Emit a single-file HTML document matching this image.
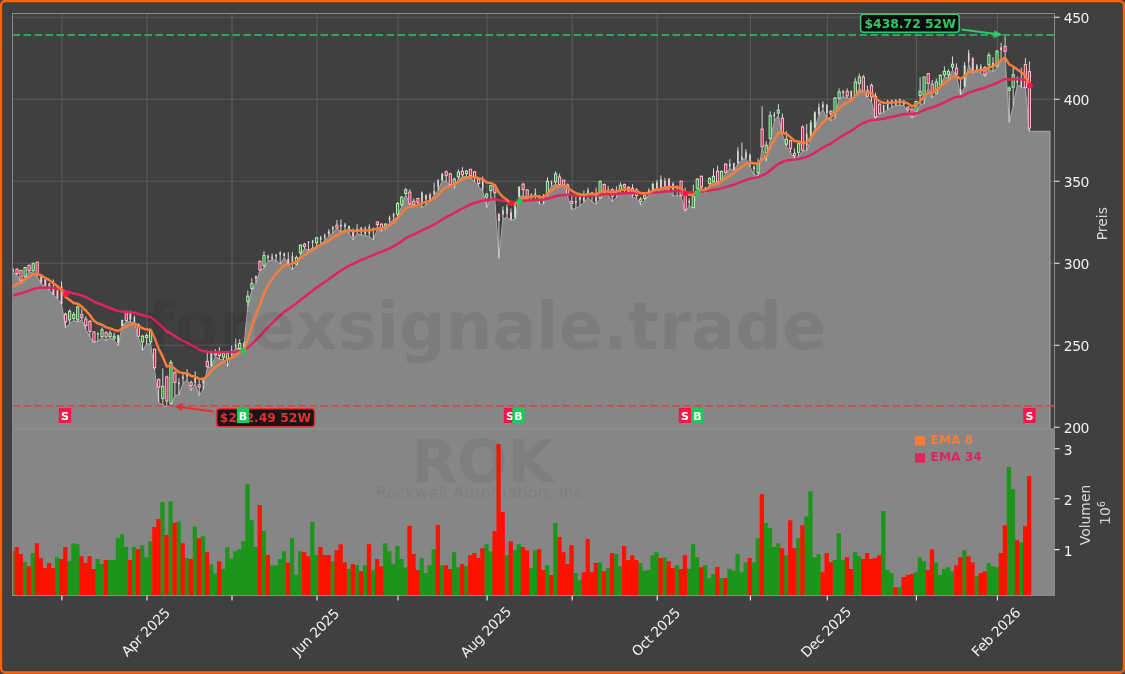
<!DOCTYPE html>
<html><head><meta charset="utf-8"><title>ROK Chart</title>
<style>html,body{margin:0;padding:0;background:#404040;}svg{display:block}</style></head>
<body><svg width="1125" height="674" viewBox="0 0 1125 674" font-family="'DejaVu Sans', 'Liberation Sans', sans-serif">
<defs><clipPath id="cp"><rect x="12.5" y="13.5" width="1042.0" height="415.5"/></clipPath><clipPath id="cv"><rect x="12.5" y="429.0" width="1042.0" height="166.5"/></clipPath></defs>
<rect x="0" y="0" width="1125" height="674" fill="#404040"/>
<rect x="12.5" y="429.0" width="1042.0" height="166.5" fill="#868686"/>
<path d="M61.9 13.5V429.0M147.0 13.5V429.0M232.0 13.5V429.0M317.0 13.5V429.0M398.0 13.5V429.0M487.1 13.5V429.0M572.2 13.5V429.0M657.2 13.5V429.0M750.4 13.5V429.0M827.3 13.5V429.0M916.4 13.5V429.0M997.4 13.5V429.0M12.5 17.2H1054.5M12.5 99.2H1054.5M12.5 181.2H1054.5M12.5 263.2H1054.5M12.5 345.2H1054.5" stroke="#5c5c5c" stroke-width="1" fill="none"/>
<g clip-path="url(#cp)">
<path d="M12.5 429.0L12.5 272.8L12.9 272.8L17.0 274.9L21.0 281.4L25.1 277.8L29.1 271.8L33.2 273.5L37.2 276.4L41.2 283.5L45.3 287.5L49.4 289.9L53.4 294.9L57.5 298.5L61.5 304.2L65.5 327.7L69.6 323.4L73.7 320.5L77.7 322.0L81.8 319.8L85.8 329.1L89.8 336.9L93.9 342.2L97.9 341.2L102.0 337.6L106.0 340.5L110.1 337.6L114.2 340.5L118.2 345.5L122.2 326.2L126.3 321.7L130.3 322.0L134.4 323.1L138.4 336.9L142.5 350.5L146.6 344.0L150.6 344.0L154.6 369.9L158.7 401.9L162.8 405.5L166.8 406.6L170.8 406.2L174.9 395.5L178.9 394.8L183.0 383.4L187.1 379.8L191.1 390.5L195.2 383.4L199.2 395.5L203.2 389.8L207.3 367.7L211.3 367.0L215.4 356.3L219.4 359.2L223.5 359.9L227.5 366.3L231.6 355.6L235.7 347.8L239.7 349.2L243.8 348.5L247.8 306.2L251.8 290.5L255.9 283.4L259.9 270.6L264.0 268.0L268.0 261.3L272.1 259.9L276.1 260.3L280.2 264.2L284.2 257.7L288.3 263.4L292.4 269.9L296.4 264.9L300.4 254.9L304.5 248.5L308.5 250.3L312.6 247.8L316.6 248.5L320.7 243.5L324.8 240.6L328.8 236.4L332.8 232.8L336.9 228.5L340.9 231.8L345.0 230.0L349.1 233.5L353.1 239.9L357.1 233.5L361.2 234.9L365.2 235.7L369.3 236.4L373.3 239.9L377.4 229.1L381.4 231.3L385.5 229.1L389.6 222.7L393.6 219.9L397.6 216.3L401.7 206.3L405.8 194.9L409.8 204.6L413.8 205.6L417.9 204.9L421.9 207.5L426.0 204.9L430.1 201.8L434.1 194.9L438.1 190.6L442.2 181.0L446.2 181.4L450.3 185.7L454.3 188.5L458.4 179.0L462.4 177.1L466.5 176.4L470.5 177.5L474.6 182.1L478.6 186.4L482.7 190.6L486.8 207.7L490.8 197.1L494.8 199.2L498.9 258.3L502.9 219.1L507.0 217.4L511.0 220.3L515.1 219.1L519.1 197.1L523.2 195.6L527.2 198.1L531.3 200.6L535.3 199.8L539.4 204.1L543.5 204.1L547.5 195.6L551.5 185.6L555.6 184.9L559.6 185.3L563.7 185.6L567.8 197.0L571.8 209.5L575.9 208.4L579.9 205.8L583.9 202.7L588.0 197.7L592.0 201.5L596.1 204.4L600.1 198.7L604.2 194.9L608.2 195.6L612.3 201.5L616.4 197.3L620.4 193.4L624.4 192.4L628.5 194.1L632.5 197.3L636.6 198.4L640.6 205.3L644.7 200.1L648.8 194.9L652.8 194.1L656.9 189.9L660.9 188.4L664.9 188.4L669.0 189.8L673.0 196.2L677.1 195.5L681.1 196.9L685.2 211.5L689.2 206.1L693.3 207.9L697.4 189.8L701.4 188.1L705.4 193.3L709.5 184.4L713.5 182.0L717.6 183.4L721.6 182.0L725.7 173.4L729.8 168.4L733.8 170.6L737.9 164.1L741.9 159.9L745.9 158.2L750.0 167.0L754.0 174.8L758.1 175.8L762.1 147.6L766.2 161.2L770.2 139.8L774.3 121.3L778.4 115.6L782.4 134.4L786.4 146.2L790.5 152.6L794.5 158.3L798.6 156.2L802.6 151.2L806.7 150.5L810.8 139.1L814.8 128.4L818.9 115.6L822.9 109.8L826.9 118.1L831.0 120.5L835.0 118.4L839.1 99.1L843.1 97.0L847.2 97.7L851.2 99.1L855.3 97.0L859.3 88.4L863.4 91.6L867.4 97.3L871.5 101.5L875.5 118.6L879.6 114.1L883.6 112.4L887.7 109.8L891.8 107.0L895.8 105.3L899.8 105.3L903.9 105.8L907.9 111.5L912.0 117.6L916.0 115.2L920.1 104.4L924.1 103.8L928.2 87.7L932.2 98.1L936.3 93.9L940.3 85.9L944.4 76.8L948.4 78.2L952.5 70.2L956.5 75.3L960.6 95.3L964.6 87.0L968.7 64.5L972.8 73.4L976.8 71.6L980.8 72.6L984.9 76.6L988.9 69.8L993.0 71.6L997.0 67.3L1001.1 60.2L1005.1 56.6L1009.2 122.4L1013.2 105.9L1017.3 84.6L1021.3 87.2L1025.4 88.1L1029.4 131.3L1050 131.3L1050 429.0Z" fill="#868686" stroke="#aaaaaa" stroke-width="1" stroke-linejoin="round"/>
<path d="M12.9 268.1V272.8M17.0 268.5V274.9M21.0 270.0V281.4M25.1 266.7V277.8M29.1 264.7V271.8M33.2 262.8V273.5M37.2 261.8V276.4M41.2 274.2V283.5M45.3 279.2V287.5M49.4 282.8V289.9M53.4 279.5V294.9M57.5 289.9V298.5M61.5 281.4V304.2M65.5 312.7V327.7M69.6 309.4V323.4M73.7 312.0V320.5M77.7 305.6V322.0M81.8 308.4V319.8M85.8 316.3V329.1M89.8 319.8V336.9M93.9 331.7V342.2M97.9 332.6V341.2M102.0 327.4V337.6M106.0 331.2V340.5M110.1 330.5V337.6M114.2 332.6V340.5M118.2 334.8V345.5M122.2 319.8V326.2M126.3 310.6V321.7M130.3 310.6V322.0M134.4 315.6V323.1M138.4 323.4V336.9M142.5 334.8V350.5M146.6 333.4V344.0M150.6 329.8V344.0M154.6 348.5V369.9M158.7 378.4V401.9M162.8 368.4V405.5M166.8 375.6V406.6M170.8 359.9V406.2M174.9 371.3V395.5M178.9 378.4V394.8M183.0 374.1V383.4M187.1 369.2V379.8M191.1 380.6V390.5M195.2 371.3V383.4M199.2 379.8V395.5M203.2 377.7V389.8M207.3 350.6V367.7M211.3 352.1V367.0M215.4 349.2V356.3M219.4 347.1V359.2M223.5 352.1V359.9M227.5 352.8V366.3M231.6 345.6V355.6M235.7 338.5V347.8M239.7 339.2V349.2M243.8 342.1V348.5M247.8 290.5V306.2M251.8 278.4V290.5M255.9 275.6V283.4M259.9 260.6V270.6M264.0 251.3V268.0M268.0 254.6V261.3M272.1 253.5V259.9M276.1 254.2V260.3M280.2 251.3V264.2M284.2 252.8V257.7M288.3 252.3V263.4M292.4 252.3V269.9M296.4 255.6V264.9M300.4 244.2V254.9M304.5 242.8V248.5M308.5 241.4V250.3M312.6 239.9V247.8M316.6 237.1V248.5M320.7 235.7V243.5M324.8 233.5V240.6M328.8 229.2V236.4M332.8 226.4V232.8M336.9 220.0V228.5M340.9 219.3V231.8M345.0 222.8V230.0M349.1 225.7V233.5M353.1 228.5V239.9M357.1 224.3V233.5M361.2 227.1V234.9M365.2 226.4V235.7M369.3 224.3V236.4M373.3 227.8V239.9M377.4 221.3V229.1M381.4 223.4V231.3M385.5 223.4V229.1M389.6 215.6V222.7M393.6 212.7V219.9M397.6 202.0V216.3M401.7 196.3V206.3M405.8 187.8V194.9M409.8 189.2V204.6M413.8 198.5V205.6M417.9 197.8V204.9M421.9 191.4V207.5M426.0 194.2V204.9M430.1 192.8V201.8M434.1 182.8V194.9M438.1 179.2V190.6M442.2 172.8V181.0M446.2 170.4V181.4M450.3 172.8V185.7M454.3 177.5V188.5M458.4 169.3V179.0M462.4 167.1V177.1M466.5 170.0V176.4M470.5 169.0V177.5M474.6 171.4V182.1M478.6 177.5V186.4M482.7 176.4V190.6M486.8 192.8V207.7M490.8 184.9V197.1M494.8 184.2V199.2M498.9 213.4V258.3M502.9 206.3V219.1M507.0 204.2V217.4M511.0 208.5V220.3M515.1 204.9V219.1M519.1 186.4V197.1M523.2 182.7V195.6M527.2 189.2V198.1M531.3 193.4V200.6M535.3 188.4V199.8M539.4 194.9V204.1M543.5 194.1V204.1M547.5 177.3V195.6M551.5 180.6V185.6M555.6 171.3V184.9M559.6 173.5V185.3M563.7 179.9V185.6M567.8 183.5V197.0M571.8 194.9V209.5M575.9 196.3V208.4M579.9 196.3V205.8M583.9 190.6V202.7M588.0 187.7V197.7M592.0 192.0V201.5M596.1 187.7V204.4M600.1 180.2V198.7M604.2 183.5V194.9M608.2 186.3V195.6M612.3 188.4V201.5M616.4 186.3V197.3M620.4 182.5V193.4M624.4 183.5V192.4M628.5 186.3V194.1M632.5 184.2V197.3M636.6 188.4V198.4M640.6 197.0V205.3M644.7 193.4V200.1M648.8 188.4V194.9M652.8 182.7V194.1M656.9 179.9V189.9M660.9 175.5V188.4M664.9 177.7V188.4M669.0 178.1V189.8M673.0 182.0V196.2M677.1 185.5V195.5M681.1 180.5V196.9M685.2 187.6V211.5M689.2 198.3V206.1M693.3 184.5V207.9M697.4 178.1V189.8M701.4 175.5V188.1M705.4 186.9V193.3M709.5 177.0V184.4M713.5 168.4V182.0M717.6 165.6V183.4M721.6 170.6V182.0M725.7 163.4V173.4M729.8 159.2V168.4M733.8 163.0V170.6M737.9 147.3V164.1M741.9 142.5V159.9M745.9 149.2V158.2M750.0 153.5V167.0M754.0 165.6V174.8M758.1 158.4V175.8M762.1 106.3V147.6M766.2 141.2V161.2M770.2 111.3V139.8M774.3 112.0V121.3M778.4 104.2V115.6M782.4 113.5V134.4M786.4 131.3V146.2M790.5 139.8V152.6M794.5 148.4V158.3M798.6 142.7V156.2M802.6 125.3V151.2M806.7 124.1V150.5M810.8 120.2V139.1M814.8 111.3V128.4M818.9 103.5V115.6M822.9 101.3V109.8M826.9 104.1V118.1M831.0 110.5V120.5M835.0 97.0V118.4M839.1 88.4V99.1M843.1 89.9V97.0M847.2 88.4V97.7M851.2 90.6V99.1M855.3 77.8V97.0M859.3 73.5V88.4M863.4 74.9V91.6M867.4 85.6V97.3M871.5 83.5V101.5M875.5 92.7V118.6M879.6 103.4V114.1M883.6 104.8V112.4M887.7 99.8V109.8M891.8 99.8V107.0M895.8 99.1V105.3M899.8 98.4V105.3M903.9 99.8V105.8M907.9 106.3V111.5M912.0 108.4V117.6M916.0 101.0V115.2M920.1 77.3V104.4M924.1 76.3V103.8M928.2 73.1V87.7M932.2 79.9V98.1M936.3 78.5V93.9M940.3 74.2V85.9M944.4 66.4V76.8M948.4 69.2V78.2M952.5 56.4V70.2M956.5 63.5V75.3M960.6 78.5V95.3M964.6 62.1V87.0M968.7 49.9V64.5M972.8 57.0V73.4M976.8 64.1V71.6M980.8 64.1V72.6M984.9 65.9V76.6M988.9 52.6V69.8M993.0 57.0V71.6M997.0 49.9V67.3M1001.1 42.8V60.2M1005.1 35.3V56.6M1009.2 86.3V122.4M1013.2 67.7V105.9M1017.3 76.6V84.6M1021.3 67.7V87.2M1025.4 57.9V88.1M1029.4 61.4V131.3" stroke="#e6e6e6" stroke-width="0.9" fill="none"/>
<rect x="12.15" y="268.8" width="1.5" height="3.4" fill="#dcdcdc"/><rect x="15.9" y="269.2" width="2.2" height="4.3" fill="#bd2450" stroke="#ffbccb" stroke-width="1"/><rect x="19.9" y="270.4" width="2.2" height="10.0" fill="#bd2450" stroke="#ffbccb" stroke-width="1"/><rect x="24.0" y="267.5" width="2.2" height="9.1" fill="#1f8a2c" stroke="#b4ecb8" stroke-width="1"/><rect x="28.0" y="265.3" width="2.2" height="5.4" fill="#bd2450" stroke="#ffbccb" stroke-width="1"/><rect x="32.1" y="263.3" width="2.2" height="7.4" fill="#1f8a2c" stroke="#b4ecb8" stroke-width="1"/><rect x="36.1" y="262.1" width="2.2" height="12.1" fill="#bd2450" stroke="#ffbccb" stroke-width="1"/><rect x="40.30" y="274.5" width="1.9" height="7.9" fill="#f8c6d2"/><rect x="44.35" y="279.5" width="1.9" height="7.9" fill="#f8c6d2"/><rect x="48.40" y="283.1" width="1.9" height="6.5" fill="#f8c6d2"/><rect x="52.45" y="287.4" width="1.9" height="7.6" fill="#f8c6d2"/><rect x="56.50" y="290.2" width="1.9" height="7.9" fill="#f8c6d2"/><rect x="60.55" y="286.7" width="1.9" height="17.2" fill="#f8c6d2"/><rect x="64.5" y="314.1" width="2.2" height="7.8" fill="#bd2450" stroke="#ffbccb" stroke-width="1"/><rect x="68.5" y="311.3" width="2.2" height="8.5" fill="#1f8a2c" stroke="#b4ecb8" stroke-width="1"/><rect x="72.6" y="314.6" width="2.2" height="3.8" fill="#1f8a2c" stroke="#b4ecb8" stroke-width="1"/><rect x="76.6" y="307.0" width="2.2" height="12.8" fill="#1f8a2c" stroke="#b4ecb8" stroke-width="1"/><rect x="80.7" y="314.6" width="2.2" height="3.1" fill="#bd2450" stroke="#ffbccb" stroke-width="1"/><rect x="84.7" y="319.1" width="2.2" height="6.4" fill="#bd2450" stroke="#ffbccb" stroke-width="1"/><rect x="88.8" y="321.3" width="2.2" height="10.0" fill="#bd2450" stroke="#ffbccb" stroke-width="1"/><rect x="92.8" y="331.9" width="2.2" height="10.0" fill="#bd2450" stroke="#ffbccb" stroke-width="1"/><rect x="97.20" y="332.7" width="1.5" height="2.0" fill="#dcdcdc"/><rect x="100.9" y="329.8" width="2.2" height="6.7" fill="#1f8a2c" stroke="#b4ecb8" stroke-width="1"/><rect x="105.0" y="332.6" width="2.2" height="4.3" fill="#bd2450" stroke="#ffbccb" stroke-width="1"/><rect x="109.0" y="333.1" width="2.2" height="3.4" fill="#1f8a2c" stroke="#b4ecb8" stroke-width="1"/><rect x="113.1" y="336.2" width="2.2" height="2.1" fill="#1f8a2c" stroke="#b4ecb8" stroke-width="1"/><rect x="117.25" y="335.1" width="1.9" height="7.9" fill="#c6ebc8"/><rect x="121.30" y="319.9" width="1.9" height="6.1" fill="#c6ebc8"/><rect x="125.2" y="312.7" width="2.2" height="7.8" fill="#bd2450" stroke="#ffbccb" stroke-width="1"/><rect x="129.40" y="313.0" width="1.9" height="6.5" fill="#f8c6d2"/><rect x="133.65" y="317.3" width="1.5" height="5.1" fill="#dcdcdc"/><rect x="137.3" y="324.8" width="2.2" height="11.4" fill="#bd2450" stroke="#ffbccb" stroke-width="1"/><rect x="141.4" y="336.2" width="2.2" height="5.7" fill="#1f8a2c" stroke="#b4ecb8" stroke-width="1"/><rect x="145.5" y="335.5" width="2.2" height="2.1" fill="#1f8a2c" stroke="#b4ecb8" stroke-width="1"/><rect x="149.5" y="331.2" width="2.2" height="10.7" fill="#1f8a2c" stroke="#b4ecb8" stroke-width="1"/><rect x="153.5" y="349.2" width="2.2" height="18.5" fill="#bd2450" stroke="#ffbccb" stroke-width="1"/><rect x="157.6" y="379.6" width="2.2" height="7.7" fill="#bd2450" stroke="#ffbccb" stroke-width="1"/><rect x="161.7" y="386.3" width="2.2" height="12.1" fill="#1f8a2c" stroke="#b4ecb8" stroke-width="1"/><rect x="165.7" y="377.0" width="2.2" height="23.9" fill="#bd2450" stroke="#ffbccb" stroke-width="1"/><rect x="169.8" y="362.5" width="2.2" height="40.9" fill="#1f8a2c" stroke="#b4ecb8" stroke-width="1"/><rect x="173.8" y="372.4" width="2.2" height="10.0" fill="#bd2450" stroke="#ffbccb" stroke-width="1"/><rect x="178.20" y="382.3" width="1.5" height="2.2" fill="#dcdcdc"/><rect x="182.25" y="376.6" width="1.5" height="2.0" fill="#dcdcdc"/><rect x="186.30" y="374.5" width="1.5" height="2.2" fill="#dcdcdc"/><rect x="190.0" y="382.4" width="2.2" height="3.1" fill="#bd2450" stroke="#ffbccb" stroke-width="1"/><rect x="194.40" y="376.6" width="1.5" height="6.5" fill="#dcdcdc"/><rect x="198.1" y="384.8" width="2.2" height="2.1" fill="#bd2450" stroke="#ffbccb" stroke-width="1"/><rect x="202.50" y="378.7" width="1.5" height="4.4" fill="#dcdcdc"/><rect x="206.2" y="361.3" width="2.2" height="5.4" fill="#bd2450" stroke="#ffbccb" stroke-width="1"/><rect x="210.40" y="352.4" width="1.9" height="13.6" fill="#c6ebc8"/><rect x="214.3" y="353.1" width="2.2" height="1.9" fill="#bd2450" stroke="#ffbccb" stroke-width="1"/><rect x="218.3" y="352.5" width="2.2" height="3.1" fill="#bd2450" stroke="#ffbccb" stroke-width="1"/><rect x="222.4" y="353.5" width="2.2" height="3.8" fill="#1f8a2c" stroke="#b4ecb8" stroke-width="1"/><rect x="226.4" y="353.5" width="2.2" height="5.0" fill="#1f8a2c" stroke="#b4ecb8" stroke-width="1"/><rect x="230.85" y="350.2" width="1.5" height="3.6" fill="#dcdcdc"/><rect x="234.90" y="344.5" width="1.5" height="2.9" fill="#dcdcdc"/><rect x="238.6" y="343.5" width="2.2" height="5.0" fill="#1f8a2c" stroke="#b4ecb8" stroke-width="1"/><rect x="243.00" y="344.5" width="1.5" height="3.6" fill="#dcdcdc"/><rect x="246.7" y="296.2" width="2.2" height="5.4" fill="#1f8a2c" stroke="#b4ecb8" stroke-width="1"/><rect x="250.8" y="283.4" width="2.2" height="5.0" fill="#1f8a2c" stroke="#b4ecb8" stroke-width="1"/><rect x="255.15" y="276.1" width="1.5" height="2.7" fill="#dcdcdc"/><rect x="258.8" y="261.3" width="2.2" height="8.5" fill="#bd2450" stroke="#ffbccb" stroke-width="1"/><rect x="262.9" y="255.6" width="2.2" height="10.0" fill="#1f8a2c" stroke="#b4ecb8" stroke-width="1"/><rect x="267.30" y="255.9" width="1.5" height="2.0" fill="#dcdcdc"/><rect x="271.35" y="256.6" width="1.5" height="2.2" fill="#dcdcdc"/><rect x="275.40" y="254.5" width="1.5" height="2.2" fill="#dcdcdc"/><rect x="279.45" y="252.4" width="1.5" height="2.2" fill="#dcdcdc"/><rect x="283.50" y="253.1" width="1.5" height="2.9" fill="#dcdcdc"/><rect x="287.35" y="258.8" width="1.9" height="5.1" fill="#f8c6d2"/><rect x="291.60" y="255.9" width="1.5" height="5.8" fill="#dcdcdc"/><rect x="295.3" y="257.5" width="2.2" height="6.7" fill="#1f8a2c" stroke="#b4ecb8" stroke-width="1"/><rect x="299.3" y="245.2" width="2.2" height="7.6" fill="#1f8a2c" stroke="#b4ecb8" stroke-width="1"/><rect x="303.4" y="244.2" width="2.2" height="2.4" fill="#bd2450" stroke="#ffbccb" stroke-width="1"/><rect x="307.80" y="241.4" width="1.5" height="2.0" fill="#dcdcdc"/><rect x="311.85" y="240.5" width="1.5" height="2.2" fill="#dcdcdc"/><rect x="315.5" y="237.8" width="2.2" height="5.0" fill="#1f8a2c" stroke="#b4ecb8" stroke-width="1"/><rect x="319.95" y="237.4" width="1.5" height="2.5" fill="#dcdcdc"/><rect x="324.00" y="235.3" width="1.5" height="2.7" fill="#dcdcdc"/><rect x="327.85" y="231.4" width="1.9" height="2.8" fill="#f8c6d2"/><rect x="332.10" y="226.7" width="1.5" height="2.9" fill="#dcdcdc"/><rect x="335.8" y="225.3" width="2.2" height="2.6" fill="#bd2450" stroke="#ffbccb" stroke-width="1"/><rect x="340.20" y="224.6" width="1.5" height="2.0" fill="#dcdcdc"/><rect x="344.25" y="224.3" width="1.5" height="2.5" fill="#dcdcdc"/><rect x="348.10" y="226.0" width="1.9" height="3.6" fill="#c6ebc8"/><rect x="352.15" y="231.7" width="1.9" height="5.1" fill="#f8c6d2"/><rect x="356.40" y="228.8" width="1.5" height="2.9" fill="#dcdcdc"/><rect x="360.45" y="227.4" width="1.5" height="5.1" fill="#dcdcdc"/><rect x="364.50" y="228.1" width="1.5" height="5.8" fill="#dcdcdc"/><rect x="368.55" y="226.7" width="1.5" height="7.2" fill="#dcdcdc"/><rect x="372.60" y="227.7" width="1.5" height="2.0" fill="#dcdcdc"/><rect x="376.3" y="222.0" width="2.2" height="2.6" fill="#bd2450" stroke="#ffbccb" stroke-width="1"/><rect x="380.3" y="224.1" width="2.2" height="5.0" fill="#bd2450" stroke="#ffbccb" stroke-width="1"/><rect x="384.4" y="224.1" width="2.2" height="3.6" fill="#1f8a2c" stroke="#b4ecb8" stroke-width="1"/><rect x="388.80" y="217.3" width="1.5" height="2.9" fill="#dcdcdc"/><rect x="392.85" y="213.8" width="1.5" height="2.9" fill="#dcdcdc"/><rect x="396.5" y="203.5" width="2.2" height="10.7" fill="#1f8a2c" stroke="#b4ecb8" stroke-width="1"/><rect x="400.6" y="197.1" width="2.2" height="7.8" fill="#1f8a2c" stroke="#b4ecb8" stroke-width="1"/><rect x="404.6" y="189.9" width="2.2" height="3.6" fill="#1f8a2c" stroke="#b4ecb8" stroke-width="1"/><rect x="408.7" y="192.1" width="2.2" height="11.7" fill="#bd2450" stroke="#ffbccb" stroke-width="1"/><rect x="412.7" y="201.3" width="2.2" height="3.3" fill="#bd2450" stroke="#ffbccb" stroke-width="1"/><rect x="416.8" y="198.5" width="2.2" height="3.8" fill="#bd2450" stroke="#ffbccb" stroke-width="1"/><rect x="421.20" y="192.4" width="1.5" height="11.5" fill="#dcdcdc"/><rect x="425.25" y="195.2" width="1.5" height="4.4" fill="#dcdcdc"/><rect x="429.30" y="194.5" width="1.5" height="5.1" fill="#dcdcdc"/><rect x="433.35" y="191.0" width="1.5" height="2.9" fill="#dcdcdc"/><rect x="437.40" y="180.3" width="1.5" height="6.5" fill="#dcdcdc"/><rect x="441.25" y="173.9" width="1.9" height="6.5" fill="#c6ebc8"/><rect x="445.1" y="171.8" width="2.2" height="3.8" fill="#bd2450" stroke="#ffbccb" stroke-width="1"/><rect x="449.2" y="173.8" width="2.2" height="10.8" fill="#bd2450" stroke="#ffbccb" stroke-width="1"/><rect x="453.2" y="179.2" width="2.2" height="4.0" fill="#1f8a2c" stroke="#b4ecb8" stroke-width="1"/><rect x="457.3" y="172.1" width="2.2" height="4.6" fill="#1f8a2c" stroke="#b4ecb8" stroke-width="1"/><rect x="461.3" y="171.4" width="2.2" height="3.3" fill="#bd2450" stroke="#ffbccb" stroke-width="1"/><rect x="465.4" y="171.0" width="2.2" height="2.6" fill="#1f8a2c" stroke="#b4ecb8" stroke-width="1"/><rect x="469.4" y="169.3" width="2.2" height="6.4" fill="#bd2450" stroke="#ffbccb" stroke-width="1"/><rect x="473.5" y="171.8" width="2.2" height="5.7" fill="#bd2450" stroke="#ffbccb" stroke-width="1"/><rect x="477.5" y="179.2" width="2.2" height="4.3" fill="#bd2450" stroke="#ffbccb" stroke-width="1"/><rect x="481.95" y="178.8" width="1.5" height="10.1" fill="#dcdcdc"/><rect x="485.6" y="194.2" width="2.2" height="2.8" fill="#1f8a2c" stroke="#b4ecb8" stroke-width="1"/><rect x="489.7" y="185.7" width="2.2" height="5.0" fill="#1f8a2c" stroke="#b4ecb8" stroke-width="1"/><rect x="493.7" y="185.7" width="2.2" height="7.1" fill="#bd2450" stroke="#ffbccb" stroke-width="1"/><rect x="497.95" y="213.8" width="1.9" height="7.2" fill="#f8c6d2"/><rect x="502.20" y="210.2" width="1.5" height="4.4" fill="#dcdcdc"/><rect x="506.25" y="207.3" width="1.5" height="6.5" fill="#dcdcdc"/><rect x="510.10" y="212.3" width="1.9" height="7.2" fill="#f8c6d2"/><rect x="514.15" y="205.9" width="1.9" height="11.5" fill="#c6ebc8"/><rect x="518.20" y="186.7" width="1.9" height="10.1" fill="#c6ebc8"/><rect x="522.1" y="184.2" width="2.2" height="5.4" fill="#bd2450" stroke="#ffbccb" stroke-width="1"/><rect x="526.1" y="189.9" width="2.2" height="7.1" fill="#bd2450" stroke="#ffbccb" stroke-width="1"/><rect x="530.55" y="194.5" width="1.5" height="2.2" fill="#dcdcdc"/><rect x="534.60" y="193.0" width="1.5" height="2.9" fill="#dcdcdc"/><rect x="538.65" y="196.6" width="1.5" height="6.5" fill="#dcdcdc"/><rect x="542.70" y="196.6" width="1.5" height="6.5" fill="#dcdcdc"/><rect x="546.4" y="181.3" width="2.2" height="12.1" fill="#1f8a2c" stroke="#b4ecb8" stroke-width="1"/><rect x="550.80" y="181.6" width="1.5" height="2.2" fill="#dcdcdc"/><rect x="554.5" y="173.9" width="2.2" height="8.1" fill="#1f8a2c" stroke="#b4ecb8" stroke-width="1"/><rect x="558.5" y="177.0" width="2.2" height="7.4" fill="#bd2450" stroke="#ffbccb" stroke-width="1"/><rect x="562.6" y="180.2" width="2.2" height="4.7" fill="#bd2450" stroke="#ffbccb" stroke-width="1"/><rect x="566.6" y="184.9" width="2.2" height="10.0" fill="#bd2450" stroke="#ffbccb" stroke-width="1"/><rect x="570.7" y="201.3" width="2.2" height="2.1" fill="#bd2450" stroke="#ffbccb" stroke-width="1"/><rect x="575.10" y="200.9" width="1.5" height="2.2" fill="#dcdcdc"/><rect x="579.15" y="196.6" width="1.5" height="3.6" fill="#dcdcdc"/><rect x="583.20" y="196.6" width="1.5" height="4.4" fill="#dcdcdc"/><rect x="587.25" y="190.2" width="1.5" height="3.6" fill="#dcdcdc"/><rect x="591.30" y="192.3" width="1.5" height="2.2" fill="#dcdcdc"/><rect x="595.35" y="195.9" width="1.5" height="5.8" fill="#dcdcdc"/><rect x="599.0" y="181.6" width="2.2" height="16.5" fill="#1f8a2c" stroke="#b4ecb8" stroke-width="1"/><rect x="603.1" y="184.5" width="2.2" height="7.6" fill="#bd2450" stroke="#ffbccb" stroke-width="1"/><rect x="607.50" y="189.5" width="1.5" height="2.2" fill="#dcdcdc"/><rect x="611.2" y="189.6" width="2.2" height="6.7" fill="#bd2450" stroke="#ffbccb" stroke-width="1"/><rect x="615.60" y="190.2" width="1.5" height="2.9" fill="#dcdcdc"/><rect x="619.3" y="185.3" width="2.2" height="4.6" fill="#1f8a2c" stroke="#b4ecb8" stroke-width="1"/><rect x="623.3" y="184.5" width="2.2" height="2.6" fill="#bd2450" stroke="#ffbccb" stroke-width="1"/><rect x="627.4" y="187.3" width="2.2" height="4.0" fill="#bd2450" stroke="#ffbccb" stroke-width="1"/><rect x="631.4" y="188.4" width="2.2" height="6.4" fill="#bd2450" stroke="#ffbccb" stroke-width="1"/><rect x="635.5" y="189.9" width="2.2" height="5.7" fill="#bd2450" stroke="#ffbccb" stroke-width="1"/><rect x="639.5" y="199.1" width="2.2" height="2.4" fill="#1f8a2c" stroke="#b4ecb8" stroke-width="1"/><rect x="643.6" y="194.9" width="2.2" height="3.6" fill="#1f8a2c" stroke="#b4ecb8" stroke-width="1"/><rect x="648.00" y="190.2" width="1.5" height="3.6" fill="#dcdcdc"/><rect x="651.85" y="183.8" width="1.9" height="6.5" fill="#c6ebc8"/><rect x="656.10" y="182.3" width="1.5" height="6.5" fill="#dcdcdc"/><rect x="659.95" y="179.4" width="1.9" height="7.9" fill="#f8c6d2"/><rect x="664.20" y="180.8" width="1.5" height="6.5" fill="#dcdcdc"/><rect x="668.05" y="178.7" width="1.9" height="9.3" fill="#f8c6d2"/><rect x="672.30" y="183.7" width="1.5" height="6.5" fill="#dcdcdc"/><rect x="676.35" y="186.5" width="1.5" height="2.2" fill="#dcdcdc"/><rect x="680.0" y="181.2" width="2.2" height="14.2" fill="#bd2450" stroke="#ffbccb" stroke-width="1"/><rect x="684.1" y="193.4" width="2.2" height="16.0" fill="#bd2450" stroke="#ffbccb" stroke-width="1"/><rect x="688.50" y="200.7" width="1.5" height="2.0" fill="#dcdcdc"/><rect x="692.2" y="196.1" width="2.2" height="11.6" fill="#1f8a2c" stroke="#b4ecb8" stroke-width="1"/><rect x="696.2" y="179.1" width="2.2" height="9.3" fill="#1f8a2c" stroke="#b4ecb8" stroke-width="1"/><rect x="700.3" y="176.3" width="2.2" height="10.7" fill="#bd2450" stroke="#ffbccb" stroke-width="1"/><rect x="704.70" y="188.0" width="1.5" height="2.2" fill="#dcdcdc"/><rect x="708.4" y="178.4" width="2.2" height="5.0" fill="#1f8a2c" stroke="#b4ecb8" stroke-width="1"/><rect x="712.4" y="176.3" width="2.2" height="5.0" fill="#1f8a2c" stroke="#b4ecb8" stroke-width="1"/><rect x="716.5" y="171.3" width="2.2" height="10.7" fill="#bd2450" stroke="#ffbccb" stroke-width="1"/><rect x="720.5" y="171.3" width="2.2" height="8.5" fill="#1f8a2c" stroke="#b4ecb8" stroke-width="1"/><rect x="724.6" y="164.1" width="2.2" height="8.3" fill="#bd2450" stroke="#ffbccb" stroke-width="1"/><rect x="729.00" y="163.7" width="1.5" height="2.9" fill="#dcdcdc"/><rect x="733.05" y="163.0" width="1.5" height="6.5" fill="#dcdcdc"/><rect x="737.10" y="150.9" width="1.5" height="12.2" fill="#dcdcdc"/><rect x="741.15" y="156.6" width="1.5" height="2.9" fill="#dcdcdc"/><rect x="745.20" y="152.3" width="1.5" height="5.8" fill="#dcdcdc"/><rect x="749.25" y="155.2" width="1.5" height="5.8" fill="#dcdcdc"/><rect x="753.30" y="166.6" width="1.5" height="2.5" fill="#dcdcdc"/><rect x="757.0" y="163.4" width="2.2" height="9.3" fill="#1f8a2c" stroke="#b4ecb8" stroke-width="1"/><rect x="761.0" y="129.1" width="2.2" height="17.8" fill="#bd2450" stroke="#ffbccb" stroke-width="1"/><rect x="765.1" y="145.2" width="2.2" height="7.4" fill="#1f8a2c" stroke="#b4ecb8" stroke-width="1"/><rect x="769.1" y="115.6" width="2.2" height="22.8" fill="#1f8a2c" stroke="#b4ecb8" stroke-width="1"/><rect x="773.55" y="114.1" width="1.5" height="2.2" fill="#dcdcdc"/><rect x="777.2" y="110.2" width="2.2" height="2.8" fill="#1f8a2c" stroke="#b4ecb8" stroke-width="1"/><rect x="781.3" y="118.2" width="2.2" height="14.5" fill="#bd2450" stroke="#ffbccb" stroke-width="1"/><rect x="785.3" y="139.1" width="2.2" height="5.0" fill="#1f8a2c" stroke="#b4ecb8" stroke-width="1"/><rect x="789.4" y="140.5" width="2.2" height="8.1" fill="#bd2450" stroke="#ffbccb" stroke-width="1"/><rect x="793.4" y="153.3" width="2.2" height="2.4" fill="#bd2450" stroke="#ffbccb" stroke-width="1"/><rect x="797.5" y="143.8" width="2.2" height="8.5" fill="#1f8a2c" stroke="#b4ecb8" stroke-width="1"/><rect x="801.5" y="127.0" width="2.2" height="23.1" fill="#bd2450" stroke="#ffbccb" stroke-width="1"/><rect x="805.95" y="133.7" width="1.5" height="12.2" fill="#dcdcdc"/><rect x="809.80" y="122.3" width="1.9" height="15.0" fill="#c6ebc8"/><rect x="813.85" y="112.3" width="1.9" height="15.0" fill="#c6ebc8"/><rect x="818.10" y="107.4" width="1.5" height="6.5" fill="#dcdcdc"/><rect x="822.15" y="104.4" width="1.5" height="2.9" fill="#dcdcdc"/><rect x="826.20" y="105.1" width="1.5" height="7.9" fill="#dcdcdc"/><rect x="829.9" y="111.2" width="2.2" height="2.6" fill="#bd2450" stroke="#ffbccb" stroke-width="1"/><rect x="833.9" y="98.1" width="2.2" height="14.5" fill="#1f8a2c" stroke="#b4ecb8" stroke-width="1"/><rect x="838.0" y="92.0" width="2.2" height="6.4" fill="#1f8a2c" stroke="#b4ecb8" stroke-width="1"/><rect x="842.40" y="91.2" width="1.5" height="2.2" fill="#dcdcdc"/><rect x="846.1" y="91.3" width="2.2" height="4.6" fill="#bd2450" stroke="#ffbccb" stroke-width="1"/><rect x="850.50" y="90.9" width="1.5" height="6.5" fill="#dcdcdc"/><rect x="854.2" y="82.0" width="2.2" height="14.2" fill="#1f8a2c" stroke="#b4ecb8" stroke-width="1"/><rect x="858.2" y="77.0" width="2.2" height="6.4" fill="#1f8a2c" stroke="#b4ecb8" stroke-width="1"/><rect x="862.3" y="77.0" width="2.2" height="13.5" fill="#bd2450" stroke="#ffbccb" stroke-width="1"/><rect x="866.3" y="91.0" width="2.2" height="5.3" fill="#bd2450" stroke="#ffbccb" stroke-width="1"/><rect x="870.4" y="85.3" width="2.2" height="11.7" fill="#bd2450" stroke="#ffbccb" stroke-width="1"/><rect x="874.4" y="96.3" width="2.2" height="20.7" fill="#bd2450" stroke="#ffbccb" stroke-width="1"/><rect x="878.5" y="104.1" width="2.2" height="9.3" fill="#bd2450" stroke="#ffbccb" stroke-width="1"/><rect x="882.90" y="105.1" width="1.5" height="6.5" fill="#dcdcdc"/><rect x="886.95" y="100.9" width="1.5" height="7.9" fill="#dcdcdc"/><rect x="891.00" y="100.2" width="1.5" height="2.9" fill="#dcdcdc"/><rect x="895.05" y="100.2" width="1.5" height="4.4" fill="#dcdcdc"/><rect x="899.10" y="99.4" width="1.5" height="2.9" fill="#dcdcdc"/><rect x="903.15" y="100.9" width="1.5" height="3.6" fill="#dcdcdc"/><rect x="906.8" y="107.2" width="2.2" height="2.6" fill="#bd2450" stroke="#ffbccb" stroke-width="1"/><rect x="910.9" y="109.1" width="2.2" height="7.8" fill="#bd2450" stroke="#ffbccb" stroke-width="1"/><rect x="914.9" y="101.5" width="2.2" height="10.4" fill="#1f8a2c" stroke="#b4ecb8" stroke-width="1"/><rect x="919.0" y="91.3" width="2.2" height="4.3" fill="#1f8a2c" stroke="#b4ecb8" stroke-width="1"/><rect x="923.0" y="77.0" width="2.2" height="17.8" fill="#1f8a2c" stroke="#b4ecb8" stroke-width="1"/><rect x="927.1" y="73.5" width="2.2" height="10.0" fill="#bd2450" stroke="#ffbccb" stroke-width="1"/><rect x="931.1" y="84.2" width="2.2" height="8.5" fill="#bd2450" stroke="#ffbccb" stroke-width="1"/><rect x="935.2" y="82.0" width="2.2" height="11.4" fill="#1f8a2c" stroke="#b4ecb8" stroke-width="1"/><rect x="939.2" y="75.6" width="2.2" height="9.3" fill="#1f8a2c" stroke="#b4ecb8" stroke-width="1"/><rect x="943.3" y="71.3" width="2.2" height="3.6" fill="#1f8a2c" stroke="#b4ecb8" stroke-width="1"/><rect x="947.3" y="71.6" width="2.2" height="3.3" fill="#1f8a2c" stroke="#b4ecb8" stroke-width="1"/><rect x="951.4" y="64.2" width="2.2" height="2.8" fill="#1f8a2c" stroke="#b4ecb8" stroke-width="1"/><rect x="955.4" y="68.2" width="2.2" height="5.7" fill="#bd2450" stroke="#ffbccb" stroke-width="1"/><rect x="959.85" y="89.5" width="1.5" height="3.6" fill="#dcdcdc"/><rect x="963.70" y="65.2" width="1.9" height="21.5" fill="#c6ebc8"/><rect x="967.95" y="53.0" width="1.5" height="8.8" fill="#dcdcdc"/><rect x="971.80" y="58.4" width="1.9" height="14.1" fill="#f8c6d2"/><rect x="976.05" y="65.5" width="1.5" height="5.2" fill="#dcdcdc"/><rect x="980.10" y="66.4" width="1.5" height="3.5" fill="#dcdcdc"/><rect x="983.8" y="67.7" width="2.2" height="7.1" fill="#bd2450" stroke="#ffbccb" stroke-width="1"/><rect x="987.8" y="55.2" width="2.2" height="9.8" fill="#1f8a2c" stroke="#b4ecb8" stroke-width="1"/><rect x="992.25" y="62.8" width="1.5" height="5.2" fill="#dcdcdc"/><rect x="995.9" y="51.3" width="2.2" height="14.9" fill="#1f8a2c" stroke="#b4ecb8" stroke-width="1"/><rect x="1000.15" y="47.4" width="1.9" height="2.6" fill="#f8c6d2"/><rect x="1004.0" y="46.3" width="2.2" height="5.0" fill="#bd2450" stroke="#ffbccb" stroke-width="1"/><rect x="1008.1" y="88.1" width="2.2" height="2.3" fill="#1f8a2c" stroke="#b4ecb8" stroke-width="1"/><rect x="1012.1" y="74.8" width="2.2" height="12.4" fill="#1f8a2c" stroke="#b4ecb8" stroke-width="1"/><rect x="1016.55" y="79.7" width="1.5" height="2.6" fill="#dcdcdc"/><rect x="1020.60" y="77.9" width="1.5" height="8.8" fill="#dcdcdc"/><rect x="1024.3" y="64.5" width="2.2" height="23.1" fill="#bd2450" stroke="#ffbccb" stroke-width="1"/><rect x="1028.3" y="71.6" width="2.2" height="56.5" fill="#bd2450" stroke="#ffbccb" stroke-width="1"/>
<path d="M12.5 35H1054.5" stroke="#2ba65e" stroke-width="2" stroke-dasharray="7.5 3.5" fill="none"/>
<path d="M12.5 405.8H1054.5" stroke="#cc4d46" stroke-width="1.8" stroke-dasharray="7.5 3.5" fill="none"/>
<path d="M12.9 295.5L17.0 294.2L21.0 293.4L25.1 291.8L29.1 290.6L33.2 289.0L37.2 288.1L41.2 287.7L45.3 287.6L49.4 287.7L53.4 288.0L57.5 288.5L61.5 289.3L65.5 291.1L69.6 292.3L73.7 293.5L77.7 294.2L81.8 295.5L85.8 297.2L89.8 299.1L93.9 301.5L97.9 303.3L102.0 304.7L106.0 306.5L110.1 308.0L114.2 309.6L118.2 311.0L122.2 311.5L126.3 312.0L130.3 312.3L134.4 312.7L138.4 314.0L142.5 315.2L146.6 316.3L150.6 317.1L154.6 320.0L158.7 323.8L162.8 327.3L166.8 331.5L170.8 333.2L174.9 336.0L178.9 338.6L183.0 340.8L187.1 342.7L191.1 345.1L195.2 347.1L199.2 349.3L203.2 351.1L207.3 351.9L211.3 351.9L215.4 352.0L219.4 352.2L223.5 352.2L227.5 352.3L231.6 352.2L235.7 351.8L239.7 351.3L243.8 351.0L247.8 347.8L251.8 344.1L255.9 340.2L259.9 336.1L264.0 331.5L268.0 327.2L272.1 323.2L276.1 319.3L280.2 315.5L284.2 311.9L288.3 309.1L292.4 306.2L296.4 303.4L300.4 300.0L304.5 296.9L308.5 293.7L312.6 290.7L316.6 287.6L320.7 284.8L324.8 282.0L328.8 279.2L332.8 276.2L336.9 273.4L340.9 270.6L345.0 268.0L349.1 265.6L353.1 263.9L357.1 261.9L361.2 260.0L365.2 258.3L369.3 256.7L373.3 255.0L377.4 253.3L381.4 251.8L385.5 250.2L389.6 248.4L393.6 246.4L397.6 243.9L401.7 241.2L405.8 238.2L409.8 236.2L413.8 234.4L417.9 232.5L421.9 230.5L426.0 228.5L430.1 226.7L434.1 224.7L438.1 222.3L442.2 219.5L446.2 217.0L450.3 215.1L454.3 213.0L458.4 210.6L462.4 208.5L466.5 206.3L470.5 204.5L474.6 202.9L478.6 201.8L482.7 200.7L486.8 200.3L490.8 199.4L494.8 199.0L498.9 200.2L502.9 200.8L507.0 201.3L511.0 202.3L515.1 202.5L519.1 201.6L523.2 200.8L527.2 200.6L531.3 200.2L535.3 199.9L539.4 199.8L543.5 199.8L547.5 198.7L551.5 197.7L555.6 196.3L559.6 195.6L563.7 194.9L567.8 194.9L571.8 195.3L575.9 195.7L579.9 195.8L583.9 195.9L588.0 195.6L592.0 195.5L596.1 195.6L600.1 194.8L604.2 194.5L608.2 194.3L612.3 194.3L616.4 194.1L620.4 193.6L624.4 193.2L628.5 193.0L632.5 193.1L636.6 193.2L640.6 193.5L644.7 193.5L648.8 193.4L652.8 192.8L656.9 192.3L660.9 192.0L664.9 191.5L669.0 191.2L673.0 190.9L677.1 190.7L681.1 190.9L685.2 191.9L689.2 192.4L693.3 192.6L697.4 191.8L701.4 191.5L705.4 191.3L709.5 190.5L713.5 189.6L717.6 189.2L721.6 188.1L725.7 187.1L729.8 185.8L733.8 184.7L737.9 183.1L741.9 181.6L745.9 180.0L750.0 178.7L754.0 178.1L758.1 177.2L762.1 175.4L766.2 173.6L770.2 170.3L774.3 167.1L778.4 163.8L782.4 162.0L786.4 160.6L790.5 159.9L794.5 159.6L798.6 158.7L802.6 158.1L806.7 157.0L810.8 155.0L814.8 152.6L818.9 150.1L822.9 147.5L826.9 145.3L831.0 143.5L835.0 140.8L839.1 138.0L843.1 135.3L847.2 133.0L851.2 130.8L855.3 127.9L859.3 125.0L863.4 123.0L867.4 121.4L871.5 120.0L875.5 119.7L879.6 119.3L883.6 118.7L887.7 117.8L891.8 116.8L895.8 116.0L899.8 115.1L903.9 114.3L907.9 114.0L912.0 114.1L916.0 113.4L920.1 112.1L924.1 110.0L928.2 108.4L932.2 107.5L936.3 106.0L940.3 104.2L944.4 102.3L948.4 100.5L952.5 98.4L956.5 96.9L960.6 96.6L964.6 94.8L968.7 92.6L972.8 91.4L976.8 90.0L980.8 88.7L984.9 87.9L988.9 85.9L993.0 84.7L997.0 82.8L1001.1 80.8L1005.1 79.1L1009.2 79.6L1013.2 79.2L1017.3 79.3L1021.3 79.4L1025.4 79.8L1029.4 82.6" stroke="#e0245e" stroke-width="2.5" fill="none" stroke-linejoin="round" stroke-linecap="round"/>
<path d="M12.9 287.0L17.0 283.8L21.0 282.9L25.1 279.3L29.1 277.2L33.2 273.9L37.2 273.8L41.2 275.5L45.3 277.9L49.4 280.2L53.4 283.2L57.5 286.3L61.5 289.9L65.5 296.9L69.6 299.9L73.7 303.0L77.7 303.7L81.8 306.6L85.8 310.6L89.8 315.0L93.9 320.8L97.9 323.5L102.0 324.7L106.0 327.3L110.1 328.4L114.2 329.9L118.2 331.0L122.2 328.4L126.3 326.5L130.3 324.7L134.4 323.4L138.4 326.1L142.5 328.2L146.6 329.6L150.6 329.8L154.6 338.0L158.7 348.8L162.8 356.9L166.8 366.5L170.8 365.5L174.9 369.0L178.9 372.1L183.0 373.1L187.1 373.4L191.1 375.9L195.2 376.6L199.2 378.8L203.2 379.1L207.3 376.1L211.3 370.8L215.4 367.1L219.4 364.3L223.5 361.8L227.5 359.7L231.6 357.9L235.7 355.0L239.7 352.3L243.8 350.8L247.8 338.5L251.8 326.1L255.9 315.1L259.9 304.9L264.0 293.7L268.0 285.4L272.1 279.1L276.1 273.7L280.2 269.0L284.2 265.6L288.3 264.9L292.4 263.4L296.4 261.9L300.4 258.0L304.5 255.3L308.5 252.2L312.6 249.7L316.6 246.9L320.7 244.9L324.8 242.9L328.8 240.7L332.8 237.7L336.9 235.3L340.9 233.0L345.0 231.2L349.1 229.9L353.1 231.2L357.1 230.8L361.2 230.4L365.2 230.4L369.3 230.2L373.3 229.7L377.4 228.4L381.4 228.4L385.5 227.2L389.6 225.2L393.6 222.8L397.6 218.3L401.7 213.4L405.8 208.0L409.8 206.9L413.8 206.2L417.9 205.2L421.9 203.4L426.0 201.9L430.1 200.7L434.1 198.6L438.1 195.1L442.2 190.3L446.2 186.9L450.3 186.2L454.3 184.5L458.4 181.6L462.4 179.9L466.5 177.7L470.5 177.1L474.6 177.0L478.6 178.3L482.7 179.3L486.8 182.5L490.8 183.0L494.8 185.0L498.9 192.7L502.9 196.9L507.0 199.8L511.0 203.9L515.1 204.3L519.1 200.3L523.2 197.7L527.2 197.4L531.3 196.8L535.3 196.1L539.4 196.8L543.5 197.3L547.5 193.5L551.5 191.0L555.6 187.0L559.6 186.3L563.7 185.8L567.8 187.6L571.8 190.9L575.9 193.2L579.9 194.2L583.9 195.0L588.0 194.2L592.0 193.8L596.1 194.8L600.1 191.7L604.2 191.6L608.2 191.2L612.3 192.1L616.4 191.8L620.4 190.2L624.4 189.3L628.5 189.6L632.5 190.6L636.6 191.5L640.6 193.0L644.7 193.3L648.8 192.8L652.8 190.7L656.9 189.4L660.9 188.7L664.9 187.5L669.0 187.3L673.0 187.1L677.1 187.0L681.1 188.7L685.2 193.1L689.2 194.8L693.3 194.9L697.4 191.2L701.4 190.1L705.4 189.7L709.5 187.0L713.5 184.4L717.6 183.7L721.6 180.8L725.7 178.7L729.8 175.5L733.8 173.3L737.9 169.5L741.9 166.8L745.9 164.0L750.0 162.5L754.0 163.5L758.1 163.3L762.1 159.5L766.2 156.2L770.2 147.0L774.3 139.7L778.4 133.0L782.4 132.7L786.4 134.0L790.5 137.1L794.5 141.0L798.6 141.5L802.6 143.2L806.7 142.3L810.8 137.8L814.8 132.0L818.9 127.1L822.9 122.2L826.9 119.1L831.0 117.8L835.0 113.2L839.1 108.3L843.1 104.6L847.2 102.5L851.2 100.4L855.3 96.2L859.3 91.7L863.4 91.3L867.4 92.2L871.5 93.1L875.5 98.2L879.6 101.4L883.6 102.8L887.7 103.1L891.8 102.6L895.8 102.3L899.8 101.8L903.9 101.9L907.9 103.4L912.0 106.3L916.0 105.0L920.1 101.8L924.1 96.1L928.2 93.1L932.2 92.9L936.3 90.3L940.3 86.8L944.4 83.2L948.4 80.5L952.5 76.7L956.5 75.9L960.6 79.1L964.6 76.0L968.7 71.7L972.8 71.6L976.8 70.6L980.8 69.9L984.9 70.8L988.9 67.2L993.0 66.6L997.0 63.0L1001.1 59.9L1005.1 57.8L1009.2 64.3L1013.2 66.5L1017.3 69.5L1021.3 72.2L1025.4 75.4L1029.4 87.0" stroke="#f97c38" stroke-width="2.5" fill="none" stroke-linejoin="round" stroke-linecap="round"/>
<circle cx="66.0" cy="294.0" r="2.9" fill="#ff1744"/>
<circle cx="243.5" cy="350.8" r="2.9" fill="#1ec85a"/>
<circle cx="511.5" cy="203.3" r="2.9" fill="#ff1744"/>
<circle cx="519.5" cy="201.3" r="2.9" fill="#1ec85a"/>
<circle cx="685.2" cy="193.4" r="2.9" fill="#ff1744"/>
<circle cx="697.4" cy="192.5" r="2.9" fill="#1ec85a"/>
<circle cx="1029.9" cy="85.5" r="2.9" fill="#ff1744"/>
</g>
<text x="482.5" y="482.3" font-size="59.5" font-weight="bold" text-anchor="middle" fill="#000" fill-opacity="0.06" id="wm2">ROK</text>
<text x="482" y="497.5" font-size="16.4" text-anchor="middle" fill="#000" fill-opacity="0.06" id="wm3">Rockwell Automation, Inc.</text>
<g clip-path="url(#cv)">
<path d="M10.48 600V551.3h4.30V600ZM22.63 600V562.3h4.30V600ZM30.73 600V553.1h4.30V600ZM55.03 600V557.3h4.30V600ZM67.17 600V561.3h4.30V600ZM71.22 600V543.2h4.30V600ZM75.27 600V544.2h4.30V600ZM95.52 600V559.1h4.30V600ZM99.57 600V564.1h4.30V600ZM107.67 600V560.1h4.30V600ZM111.72 600V560.1h4.30V600ZM115.77 600V538.2h4.30V600ZM119.82 600V534.2h4.30V600ZM123.87 600V547.0h4.30V600ZM131.97 600V547.0h4.30V600ZM140.07 600V545.3h4.30V600ZM144.12 600V557.3h4.30V600ZM148.17 600V541.3h4.30V600ZM160.32 600V502.1h4.30V600ZM168.42 600V501.4h4.30V600ZM176.52 600V521.4h4.30V600ZM184.62 600V558.1h4.30V600ZM192.72 600V526.4h4.30V600ZM200.82 600V536.3h4.30V600ZM208.92 600V564.4h4.30V600ZM212.97 600V573.4h4.30V600ZM221.07 600V569.1h4.30V600ZM225.12 600V547.3h4.30V600ZM229.17 600V558.7h4.30V600ZM233.22 600V551.3h4.30V600ZM237.27 600V549.2h4.30V600ZM241.32 600V541.3h4.30V600ZM245.37 600V484.0h4.30V600ZM249.42 600V520.2h4.30V600ZM253.47 600V547.0h4.30V600ZM261.58 600V531.1h4.30V600ZM269.68 600V565.3h4.30V600ZM273.73 600V565.3h4.30V600ZM277.78 600V559.1h4.30V600ZM281.83 600V551.3h4.30V600ZM289.93 600V538.2h4.30V600ZM293.98 600V574.8h4.30V600ZM298.03 600V551.3h4.30V600ZM310.18 600V522.1h4.30V600ZM314.23 600V554.9h4.30V600ZM330.43 600V561.3h4.30V600ZM346.63 600V569.1h4.30V600ZM354.73 600V565.3h4.30V600ZM362.83 600V565.3h4.30V600ZM370.93 600V570.1h4.30V600ZM383.08 600V543.2h4.30V600ZM387.13 600V551.3h4.30V600ZM391.18 600V564.1h4.30V600ZM395.23 600V546.0h4.30V600ZM399.28 600V559.1h4.30V600ZM403.33 600V567.2h4.30V600ZM419.53 600V558.1h4.30V600ZM423.58 600V573.1h4.30V600ZM427.63 600V565.3h4.30V600ZM431.68 600V549.2h4.30V600ZM439.78 600V565.3h4.30V600ZM451.93 600V552.3h4.30V600ZM455.98 600V567.2h4.30V600ZM464.08 600V566.3h4.30V600ZM484.33 600V544.2h4.30V600ZM488.38 600V551.3h4.30V600ZM504.58 600V555.3h4.30V600ZM512.67 600V550.2h4.30V600ZM516.73 600V544.2h4.30V600ZM528.88 600V568.1h4.30V600ZM532.92 600V550.2h4.30V600ZM545.08 600V565.3h4.30V600ZM553.17 600V523.1h4.30V600ZM573.43 600V573.1h4.30V600ZM577.48 600V580.2h4.30V600ZM597.73 600V562.3h4.30V600ZM605.83 600V568.1h4.30V600ZM613.93 600V554.1h4.30V600ZM617.98 600V566.3h4.30V600ZM638.23 600V563.1h4.30V600ZM642.27 600V570.8h4.30V600ZM646.33 600V570.1h4.30V600ZM650.38 600V555.3h4.30V600ZM654.43 600V552.3h4.30V600ZM662.52 600V557.3h4.30V600ZM674.68 600V565.3h4.30V600ZM686.83 600V569.1h4.30V600ZM690.88 600V544.2h4.30V600ZM694.93 600V557.3h4.30V600ZM703.02 600V565.3h4.30V600ZM707.08 600V578.1h4.30V600ZM711.12 600V574.1h4.30V600ZM719.23 600V578.1h4.30V600ZM727.33 600V569.1h4.30V600ZM731.38 600V570.8h4.30V600ZM735.43 600V554.1h4.30V600ZM739.48 600V572.2h4.30V600ZM743.52 600V562.3h4.30V600ZM751.62 600V562.3h4.30V600ZM755.68 600V538.2h4.30V600ZM763.77 600V523.1h4.30V600ZM767.83 600V528.1h4.30V600ZM771.88 600V547.0h4.30V600ZM775.93 600V543.2h4.30V600ZM784.02 600V555.3h4.30V600ZM796.18 600V538.2h4.30V600ZM804.27 600V516.4h4.30V600ZM808.33 600V491.2h4.30V600ZM812.38 600V557.3h4.30V600ZM816.43 600V554.1h4.30V600ZM832.62 600V560.1h4.30V600ZM836.67 600V533.2h4.30V600ZM840.73 600V560.1h4.30V600ZM852.88 600V552.3h4.30V600ZM856.92 600V556.3h4.30V600ZM881.23 600V511.1h4.30V600ZM885.27 600V570.1h4.30V600ZM889.33 600V573.1h4.30V600ZM897.42 600V587.2h4.30V600ZM913.62 600V572.2h4.30V600ZM917.67 600V557.3h4.30V600ZM921.73 600V561.3h4.30V600ZM933.88 600V562.3h4.30V600ZM937.92 600V575.1h4.30V600ZM941.98 600V569.1h4.30V600ZM946.02 600V567.2h4.30V600ZM950.08 600V571.2h4.30V600ZM962.23 600V550.2h4.30V600ZM974.38 600V576.2h4.30V600ZM986.52 600V563.1h4.30V600ZM990.58 600V566.3h4.30V600ZM994.62 600V567.2h4.30V600ZM1006.77 600V466.9h4.30V600ZM1010.83 600V489.2h4.30V600ZM1018.92 600V542.2h4.30V600Z" fill="#1b961b"/>
<path d="M14.53 600V547.0h4.30V600ZM18.58 600V554.1h4.30V600ZM26.68 600V566.3h4.30V600ZM34.78 600V543.2h4.30V600ZM38.83 600V558.1h4.30V600ZM42.88 600V568.1h4.30V600ZM46.93 600V563.1h4.30V600ZM50.98 600V568.1h4.30V600ZM59.08 600V559.1h4.30V600ZM63.12 600V547.0h4.30V600ZM79.32 600V556.3h4.30V600ZM83.37 600V563.1h4.30V600ZM87.42 600V556.3h4.30V600ZM91.47 600V569.1h4.30V600ZM103.62 600V560.1h4.30V600ZM127.92 600V560.1h4.30V600ZM136.02 600V549.2h4.30V600ZM152.22 600V527.1h4.30V600ZM156.27 600V518.9h4.30V600ZM164.38 600V534.9h4.30V600ZM172.47 600V522.8h4.30V600ZM180.57 600V543.2h4.30V600ZM188.67 600V559.1h4.30V600ZM196.77 600V538.2h4.30V600ZM204.87 600V552.3h4.30V600ZM217.02 600V561.3h4.30V600ZM257.53 600V505.0h4.30V600ZM265.62 600V554.9h4.30V600ZM285.88 600V562.7h4.30V600ZM302.08 600V552.3h4.30V600ZM306.12 600V556.3h4.30V600ZM318.28 600V547.0h4.30V600ZM322.33 600V554.9h4.30V600ZM326.38 600V554.9h4.30V600ZM334.48 600V550.2h4.30V600ZM338.53 600V544.2h4.30V600ZM342.58 600V562.3h4.30V600ZM350.68 600V564.1h4.30V600ZM358.78 600V571.2h4.30V600ZM366.88 600V544.2h4.30V600ZM374.98 600V559.1h4.30V600ZM379.03 600V566.3h4.30V600ZM407.38 600V526.1h4.30V600ZM411.43 600V554.1h4.30V600ZM415.48 600V570.1h4.30V600ZM435.73 600V524.9h4.30V600ZM443.83 600V565.3h4.30V600ZM447.88 600V569.1h4.30V600ZM460.03 600V564.1h4.30V600ZM468.12 600V555.3h4.30V600ZM472.18 600V553.1h4.30V600ZM476.23 600V558.1h4.30V600ZM480.28 600V548.2h4.30V600ZM492.43 600V531.3h4.30V600ZM496.48 600V444.0h4.30V600ZM500.53 600V512.1h4.30V600ZM508.62 600V541.3h4.30V600ZM520.78 600V547.0h4.30V600ZM524.83 600V550.2h4.30V600ZM536.98 600V549.2h4.30V600ZM541.03 600V570.1h4.30V600ZM549.12 600V575.1h4.30V600ZM557.23 600V537.0h4.30V600ZM561.28 600V552.3h4.30V600ZM565.33 600V564.1h4.30V600ZM569.38 600V545.2h4.30V600ZM581.52 600V572.2h4.30V600ZM585.58 600V538.9h4.30V600ZM589.62 600V572.2h4.30V600ZM593.68 600V563.1h4.30V600ZM601.77 600V571.2h4.30V600ZM609.88 600V553.1h4.30V600ZM622.02 600V546.0h4.30V600ZM626.08 600V560.1h4.30V600ZM630.12 600V555.3h4.30V600ZM634.18 600V560.1h4.30V600ZM658.48 600V558.1h4.30V600ZM666.58 600V561.3h4.30V600ZM670.62 600V568.1h4.30V600ZM678.73 600V569.1h4.30V600ZM682.77 600V555.3h4.30V600ZM698.98 600V567.2h4.30V600ZM715.18 600V567.0h4.30V600ZM723.27 600V578.1h4.30V600ZM747.58 600V558.1h4.30V600ZM759.73 600V494.2h4.30V600ZM779.98 600V548.2h4.30V600ZM788.08 600V520.2h4.30V600ZM792.12 600V548.2h4.30V600ZM800.23 600V525.2h4.30V600ZM820.48 600V572.2h4.30V600ZM824.52 600V553.1h4.30V600ZM828.58 600V562.3h4.30V600ZM844.77 600V557.3h4.30V600ZM848.83 600V569.1h4.30V600ZM860.98 600V559.1h4.30V600ZM865.02 600V553.1h4.30V600ZM869.08 600V559.1h4.30V600ZM873.12 600V558.1h4.30V600ZM877.17 600V555.3h4.30V600ZM893.38 600V587.2h4.30V600ZM901.48 600V577.1h4.30V600ZM905.52 600V575.1h4.30V600ZM909.58 600V574.1h4.30V600ZM925.77 600V570.1h4.30V600ZM929.83 600V549.2h4.30V600ZM954.12 600V565.3h4.30V600ZM958.17 600V557.3h4.30V600ZM966.27 600V556.3h4.30V600ZM970.33 600V562.3h4.30V600ZM978.42 600V573.1h4.30V600ZM982.48 600V571.2h4.30V600ZM998.67 600V553.1h4.30V600ZM1002.73 600V525.2h4.30V600ZM1014.88 600V540.3h4.30V600ZM1022.98 600V526.1h4.30V600ZM1027.02 600V476.1h4.30V600Z" fill="#ff1100"/>
</g>
<text x="486" y="349" font-size="65.3" font-weight="bold" text-anchor="middle" fill="#000" fill-opacity="0.075" id="wm1">forexsignale.trade</text>
<rect x="12.5" y="13.5" width="1042.0" height="415.5" fill="none" stroke="#8a8a8a" stroke-width="1"/>
<rect x="12.5" y="429.0" width="1042.0" height="166.5" fill="none" stroke="#8a8a8a" stroke-width="1"/>
<text x="1063.8" y="23.1" font-size="13.9" letter-spacing="-0.45" fill="#f2f2f2">450</text>
<text x="1063.8" y="105.1" font-size="13.9" letter-spacing="-0.45" fill="#f2f2f2">400</text>
<text x="1063.8" y="187.1" font-size="13.9" letter-spacing="-0.45" fill="#f2f2f2">350</text>
<text x="1063.8" y="269.1" font-size="13.9" letter-spacing="-0.45" fill="#f2f2f2">300</text>
<text x="1063.8" y="351.1" font-size="13.9" letter-spacing="-0.45" fill="#f2f2f2">250</text>
<text x="1063.8" y="433.1" font-size="13.9" letter-spacing="-0.45" fill="#f2f2f2">200</text>
<text x="1063.8" y="454.7" font-size="13.9" letter-spacing="-0.45" fill="#f2f2f2">3</text>
<text x="1063.8" y="504.7" font-size="13.9" letter-spacing="-0.45" fill="#f2f2f2">2</text>
<text x="1063.8" y="555.5" font-size="13.9" letter-spacing="-0.45" fill="#f2f2f2">1</text>
<path d="M1054.5 17.2h5M1054.5 99.2h5M1054.5 181.2h5M1054.5 263.2h5M1054.5 345.2h5M1054.5 427.2h5M1054.5 448.8h5M1054.5 498.8h5M1054.5 549.6h5M61.9 595.5v5M147.0 595.5v5M232.0 595.5v5M317.0 595.5v5M398.0 595.5v5M487.1 595.5v5M572.2 595.5v5M657.2 595.5v5M750.4 595.5v5M827.3 595.5v5M916.4 595.5v5M997.4 595.5v5" stroke="#f2f2f2" stroke-width="1.1" fill="none"/>
<text transform="translate(145.5,632) rotate(-45)" text-anchor="middle" dy="0.36em" font-size="13.9" letter-spacing="-0.3" fill="#f2f2f2">Apr 2025</text>
<text transform="translate(315.5,632) rotate(-45)" text-anchor="middle" dy="0.36em" font-size="13.9" letter-spacing="-0.3" fill="#f2f2f2">Jun 2025</text>
<text transform="translate(485.6,632) rotate(-45)" text-anchor="middle" dy="0.36em" font-size="13.9" letter-spacing="-0.3" fill="#f2f2f2">Aug 2025</text>
<text transform="translate(655.7,632) rotate(-45)" text-anchor="middle" dy="0.36em" font-size="13.9" letter-spacing="-0.3" fill="#f2f2f2">Oct 2025</text>
<text transform="translate(825.8,632) rotate(-45)" text-anchor="middle" dy="0.36em" font-size="13.9" letter-spacing="-0.3" fill="#f2f2f2">Dec 2025</text>
<text transform="translate(995.9,632) rotate(-45)" text-anchor="middle" dy="0.36em" font-size="13.9" letter-spacing="-0.3" fill="#f2f2f2">Feb 2026</text>
<text transform="translate(1107,223.7) rotate(-90)" text-anchor="middle" font-size="13.9" fill="#d8d8d8">Preis</text>
<text transform="translate(1090,515) rotate(-90)" text-anchor="middle" font-size="13.9" fill="#d8d8d8">Volumen</text>
<text transform="translate(1109.5,513) rotate(-90)" text-anchor="middle" font-size="13.9" fill="#d8d8d8">10<tspan font-size="9.7" dy="-5">6</tspan></text>
<rect x="915" y="436.2" width="10" height="9.5" fill="#f97c38"/><text x="930.6" y="443.9" font-size="12.2" font-weight="bold" fill="#f97c38">EMA 8</text>
<rect x="915" y="453.2" width="10" height="9.5" fill="#e0245e"/><text x="930.6" y="461.2" font-size="12.2" font-weight="bold" fill="#e0245e">EMA 34</text>
<path d="M213.6 411.6L181 407.2" stroke="#e53030" stroke-width="2" fill="none"/><path d="M174.4 406.4L183.2 402.9L182 410.8Z" fill="#e53030"/>
<rect x="216.6" y="408.8" width="98" height="18" rx="3" fill="#161616" stroke="#e53030" stroke-width="1.6"/>
<text x="219.7" y="422.2" font-size="12.35" font-weight="bold" fill="#e53030" id="lowlbl">$212.49 52W</text>
<rect x="58.8" y="408" width="12.4" height="15" fill="#f2184c"/><text x="65.0" y="419.6" font-size="11" font-weight="bold" text-anchor="middle" fill="#fff">S</text>
<rect x="236.8" y="408" width="12.4" height="15" fill="#1ec85a"/><text x="243.0" y="419.6" font-size="11" font-weight="bold" text-anchor="middle" fill="#fff">B</text>
<rect x="503.8" y="408" width="12.4" height="15" fill="#f2184c"/><text x="510.0" y="419.6" font-size="11" font-weight="bold" text-anchor="middle" fill="#fff">S</text>
<rect x="512.3" y="408" width="12.4" height="15" fill="#1ec85a"/><text x="518.5" y="419.6" font-size="11" font-weight="bold" text-anchor="middle" fill="#fff">B</text>
<rect x="678.8" y="408" width="12.4" height="15" fill="#f2184c"/><text x="685.0" y="419.6" font-size="11" font-weight="bold" text-anchor="middle" fill="#fff">S</text>
<rect x="691.3" y="408" width="12.4" height="15" fill="#1ec85a"/><text x="697.5" y="419.6" font-size="11" font-weight="bold" text-anchor="middle" fill="#fff">B</text>
<rect x="1023.3" y="408" width="12.4" height="15" fill="#f2184c"/><text x="1029.5" y="419.6" font-size="11" font-weight="bold" text-anchor="middle" fill="#fff">S</text>
<path d="M961.6 29.5L996 34" stroke="#2fc866" stroke-width="2" fill="none"/><path d="M1002.4 34.8L993.3 38.2L994.6 30.2Z" fill="#2fc866"/>
<rect x="860.6" y="14.2" width="98.6" height="18" rx="3" fill="#0c0c0c" stroke="#2fc866" stroke-width="1.6"/>
<text x="864.5" y="27.8" font-size="12.35" font-weight="bold" fill="#2fc866" id="highlbl">$438.72 52W</text>
<rect x="1" y="1" width="1123" height="671.5" rx="4.5" fill="none" stroke="#ff6405" stroke-width="2.3"/>
</svg></body></html>
